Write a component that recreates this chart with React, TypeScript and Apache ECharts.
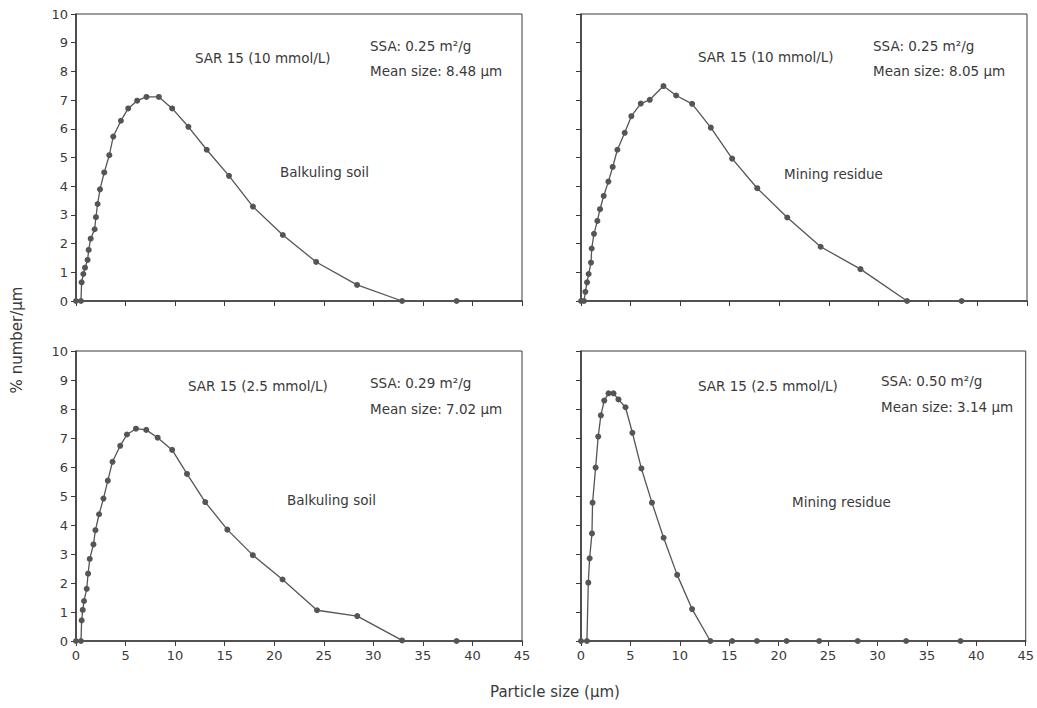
import React, { useEffect, useRef } from "react";
import * as echarts from "echarts";

// Top-left: Balkuling soil, SAR 15 (10 mmol/L)
const tlSize = [0, 0.5, 0.57, 0.74, 0.91, 1.17, 1.28, 1.48, 1.88, 2.01, 2.18, 2.42, 2.85, 3.36, 3.76, 4.53, 5.27, 6.17, 7.11, 8.36, 9.7, 11.34, 13.19, 15.44, 17.85, 20.87, 24.23, 28.36, 32.9, 38.4];
const tlPct = [0, 0, 0.65, 0.94, 1.16, 1.43, 1.78, 2.17, 2.5, 2.92, 3.38, 3.89, 4.48, 5.08, 5.73, 6.28, 6.71, 6.98, 7.11, 7.11, 6.71, 6.07, 5.27, 4.36, 3.29, 2.3, 1.36, 0.56, 0, 0];

// Top-right: Mining residue, SAR 15 (10 mmol/L)
const trSize = [0, 0.3, 0.44, 0.61, 0.77, 1.01, 1.08, 1.31, 1.65, 1.92, 2.29, 2.76, 3.2, 3.67, 4.41, 5.08, 6.03, 6.94, 8.32, 9.6, 11.21, 13.1, 15.25, 17.78, 20.81, 24.18, 28.2, 32.9, 38.4];
const trPct = [0, 0, 0.32, 0.65, 0.94, 1.34, 1.83, 2.34, 2.79, 3.2, 3.66, 4.16, 4.67, 5.27, 5.86, 6.44, 6.88, 7.01, 7.49, 7.16, 6.87, 6.04, 4.96, 3.93, 2.91, 1.89, 1.11, 0, 0];

// Bottom-left: Balkuling soil, SAR 15 (2.5 mmol/L)
const blSize = [0, 0.5, 0.57, 0.68, 0.81, 1.08, 1.22, 1.39, 1.76, 1.96, 2.33, 2.77, 3.21, 3.68, 4.46, 5.14, 6.05, 7.09, 8.24, 9.7, 11.2, 13.04, 15.27, 17.84, 20.84, 24.32, 28.38, 32.9, 38.4];
const blPct = [0, 0, 0.71, 1.07, 1.38, 1.8, 2.32, 2.83, 3.33, 3.82, 4.37, 4.91, 5.53, 6.18, 6.73, 7.12, 7.32, 7.28, 7.01, 6.59, 5.76, 4.79, 3.84, 2.96, 2.12, 1.06, 0.86, 0.02, 0];

// Bottom-right: Mining residue, SAR 15 (2.5 mmol/L)
const brSize = [0, 0.6, 0.74, 0.87, 1.11, 1.17, 1.48, 1.74, 2.01, 2.35, 2.79, 3.29, 3.79, 4.5, 5.2, 6.11, 7.18, 8.36, 9.73, 11.24, 13.09, 15.3, 17.8, 20.8, 24.1, 28.0, 32.9, 38.4];
const brPct = [0, 0, 2.01, 2.85, 3.71, 4.77, 5.98, 7.05, 7.78, 8.29, 8.54, 8.54, 8.33, 8.06, 7.18, 5.95, 4.77, 3.56, 2.28, 1.1, 0, 0, 0, 0, 0, 0, 0, 0];

const xTicks = [0, 5, 10, 15, 20, 25, 30, 35, 40, 45];
const yTicks = [0, 1, 2, 3, 4, 5, 6, 7, 8, 9, 10];

const panelLabels = [
  { cond: "SAR 15 (10 mmol/L)", ssa: "SSA: 0.25 m²/g", mean: "Mean size: 8.48 µm", material: "Balkuling soil" },
  { cond: "SAR 15 (10 mmol/L)", ssa: "SSA: 0.25 m²/g", mean: "Mean size: 8.05 µm", material: "Mining residue" },
  { cond: "SAR 15 (2.5 mmol/L)", ssa: "SSA: 0.29 m²/g", mean: "Mean size: 7.02 µm", material: "Balkuling soil" },
  { cond: "SAR 15 (2.5 mmol/L)", ssa: "SSA: 0.50 m²/g", mean: "Mean size: 3.14 µm", material: "Mining residue" },
];

const FONT = "'DejaVu Sans', Verdana, sans-serif";
const AX = "#3a3a3a";
const TXT = "#3a3a3a";

export default function App() {
  const ref = useRef<HTMLDivElement>(null);
  useEffect(() => {
    if (!ref.current) return;
    const chart = echarts.init(ref.current, undefined, { renderer: "svg" });
    const pairs = (xs: number[], ys: number[]) => xs.map((x, i) => [x, ys[i]]);
    const seriesData = [pairs(tlSize, tlPct), pairs(trSize, trPct), pairs(blSize, blPct), pairs(brSize, brPct)];

    const grids = [
      { left: 76, top: 14, width: 446, height: 287 },
      { left: 581, top: 14, width: 446, height: 287 },
      { left: 76, top: 351, width: 446, height: 290 },
      { left: 581, top: 351, width: 446, height: 290 },
    ].map((g) => ({ ...g, show: true, borderColor: AX, borderWidth: 1, backgroundColor: "transparent" }));

    const xAxes = grids.map((_, i) => ({
      type: "value",
      gridIndex: i,
      min: xTicks[0],
      max: xTicks[xTicks.length - 1],
      interval: xTicks[1] - xTicks[0],
      axisLine: { show: true, lineStyle: { color: AX, width: 1.6 } },
      axisTick: { show: true, inside: false, length: 5, lineStyle: { color: AX } },
      axisLabel: { show: i >= 2, color: TXT, fontSize: 13, fontFamily: FONT, margin: 8 },
      splitLine: { show: false },
    }));

    const yAxes = grids.map((_, i) => ({
      type: "value",
      gridIndex: i,
      min: yTicks[0],
      max: yTicks[yTicks.length - 1],
      interval: yTicks[1] - yTicks[0],
      axisLine: { show: true, lineStyle: { color: AX, width: 1.6 } },
      axisTick: { show: true, inside: false, length: 5, lineStyle: { color: AX } },
      axisLabel: { show: i % 2 === 0, color: TXT, fontSize: 13, fontFamily: FONT, margin: 8 },
      splitLine: { show: false },
    }));

    const series = seriesData.map((d, i) => ({
      type: "line",
      xAxisIndex: i,
      yAxisIndex: i,
      data: d,
      symbol: "circle",
      symbolSize: 6,
      showSymbol: true,
      itemStyle: { color: "#555" },
      lineStyle: { color: "#555", width: 1.3 },
      smooth: false,
      clip: false,
    }));

    const textStyle = (text: string, x: number, y: number) => ({
      type: "text",
      x,
      y,
      style: { text, fill: TXT, fontSize: 13.5, fontFamily: FONT, verticalAlign: "middle" },
    });

    const pos = [
      { cond: [195, 58], ssa: [370, 46], mean: [370, 71], mat: [280, 172] },
      { cond: [698, 57], ssa: [873, 46], mean: [873, 71], mat: [784, 174] },
      { cond: [188, 386], ssa: [370, 383], mean: [370, 409], mat: [287, 500] },
      { cond: [698, 386], ssa: [881, 381], mean: [881, 407], mat: [792, 502] },
    ];

    const graphics: any[] = [];
    panelLabels.forEach((p, i) => {
      const q = pos[i];
      graphics.push(textStyle(p.cond, q.cond[0], q.cond[1]));
      graphics.push(textStyle(p.ssa, q.ssa[0], q.ssa[1]));
      graphics.push(textStyle(p.mean, q.mean[0], q.mean[1]));
      graphics.push(textStyle(p.material, q.mat[0], q.mat[1]));
    });
    graphics.push({
      type: "text",
      x: 17,
      y: 340,
      rotation: Math.PI / 2,
      style: { text: "% number/µm", fill: TXT, fontSize: 15, fontFamily: FONT, align: "center", verticalAlign: "middle" },
    });
    graphics.push({
      type: "text",
      x: 555,
      y: 692,
      style: { text: "Particle size (µm)", fill: TXT, fontSize: 15, fontFamily: FONT, align: "center", verticalAlign: "middle" },
    });

    chart.setOption({
      animation: false,
      backgroundColor: "#fff",
      grid: grids,
      xAxis: xAxes,
      yAxis: yAxes,
      series,
      graphic: graphics,
    });
    return () => chart.dispose();
  }, []);
  return <div ref={ref} style={{ position: "fixed", left: 0, top: 0, width: 1037, height: 708 }} />;
}
